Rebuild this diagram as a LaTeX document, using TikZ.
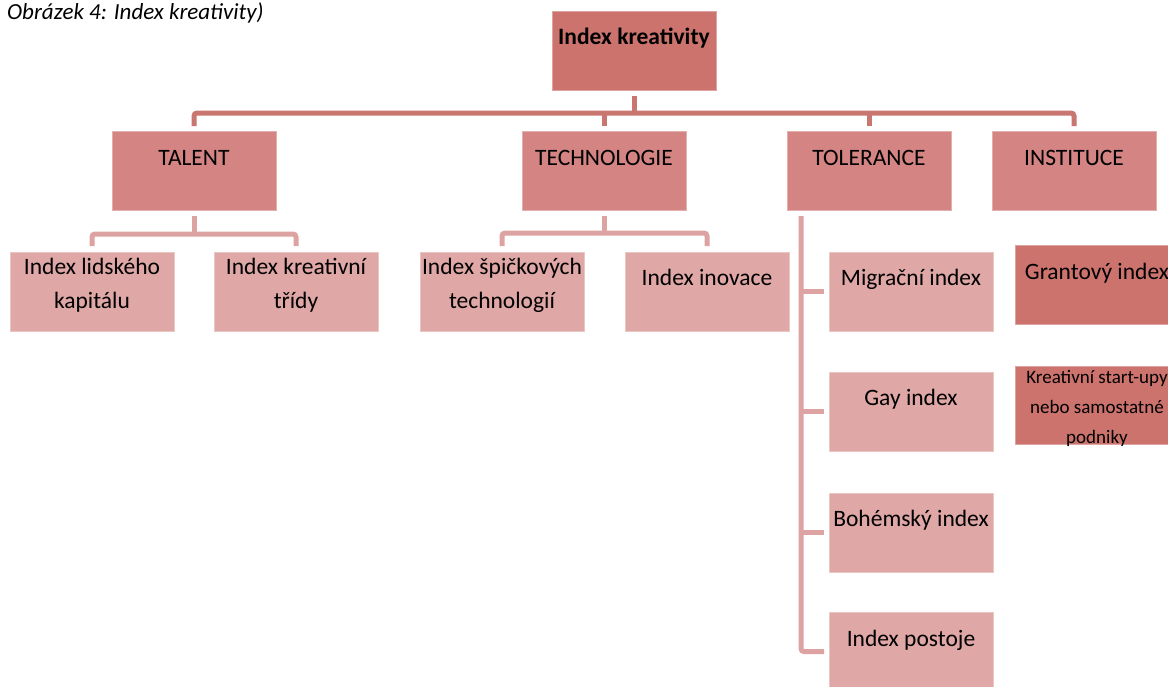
\documentclass[tikz,border=0pt]{standalone}
\usepackage{fontspec}
\setmainfont{Carlito}
\definecolor{dark}{HTML}{CC736E}
\definecolor{mid}{HTML}{D48583}
\definecolor{light}{HTML}{DFA7A6}
\definecolor{conA}{HTML}{C97570}
\definecolor{conB}{HTML}{DCA3A2}
\begin{document}
\begin{tikzpicture}[x=1pt,y=-1pt,
  box/.style={anchor=north west, inner sep=0pt, outer sep=0pt, minimum width=164pt, minimum height=79pt, fill=#1, draw=#1!65!white, line width=0.6pt},
  txt/.style={anchor=base, inner sep=0pt, align=center, font=\fontsize{23.5pt}{34pt}\selectfont},
  smalltxt/.style={anchor=base, inner sep=0pt, align=center, font=\fontsize{19pt}{30pt}\selectfont},
  connA/.style={draw=conA, line width=5pt},
  connB/.style={draw=conB, line width=5pt}]
\useasboundingbox (0,0) rectangle (1168,686);
\clip (0,0) rectangle (1168,686);

% caption
\node[anchor=base west, inner sep=0pt, font=\fontsize{23pt}{28pt}\selectfont\itshape] (cap) at (7,19) {Obrázek 4: Index kreativity)};

% boxes
\node[box=dark] (root) at (552,11) {};
\node[box=mid] (talent) at (112,131) {};
\node[box=mid] (tech) at (522,131) {};
\node[box=mid] (tol) at (787,131) {};
\node[box=mid] (inst) at (992,131) {};
\node[box=light] (lid) at (10,252) {};
\node[box=light] (kt) at (214,252) {};
\node[box=light] (spic) at (420,252) {};
\node[box=light] (inov) at (625,252) {};
\node[box=light] (mig) at (829,252) {};
\node[box=light] (gay) at (829,372) {};
\node[box=light] (boh) at (829,493) {};
\node[box=light] (post) at (829,612) {};
\node[box=dark] (grant) at (1015,245) {};
\node[box=dark, minimum height=78pt] (start) at (1015,366) {};

% texts (base anchor = baseline of the last line)
\node[txt, font=\fontsize{23.5pt}{34pt}\selectfont\bfseries] (troot) at ([yshift=-33pt]root.north) {Index kreativity};
\node[txt] (ttalent) at ([yshift=-34pt]talent.north) {TALENT};
\node[txt] (ttech) at ([yshift=-34pt]tech.north) {TECHNOLOGIE};
\node[txt] (ttol) at ([yshift=-34pt]tol.north) {TOLERANCE};
\node[txt] (tinst) at ([yshift=-34pt]inst.north) {INSTITUCE};
\node[txt] (tlid) at ([yshift=-56pt]lid.north) {Index lidského\\kapitálu};
\node[txt] (tkt) at ([yshift=-56pt]kt.north) {Index kreativní\\třídy};
\node[txt] (tspic) at ([yshift=-56pt]spic.north) {Index špičkových\\technologií};
\node[txt] (tinov) at ([yshift=-33pt]inov.north) {Index inovace};
\node[txt] (tmig) at ([yshift=-33pt]mig.north) {Migrační index};
\node[txt] (tgay) at ([yshift=-33pt]gay.north) {Gay index};
\node[txt] (tboh) at ([yshift=-33pt]boh.north) {Bohémský index};
\node[txt] (tpost) at ([yshift=-34pt]post.north) {Index postoje};
\node[txt] (tgrant) at ([yshift=-34pt]grant.north) {Grantový index};
\node[smalltxt] (tstart) at ([yshift=-77pt]start.north) {Kreativní start-upy\\nebo samostatné\\podniky};

% top level connectors
\coordinate (bar) at (634,113);
\draw[connA] ([yshift=-6pt]root.south) -- (bar);
\draw[connA, rounded corners=3pt] ([yshift=5pt]talent.north) |- (bar) -| ([yshift=5pt]inst.north);
\draw[connA] ([yshift=5pt]tech.north) -- (tech.north |- bar);
\draw[connA] ([yshift=5pt]tol.north) -- (tol.north |- bar);

% talent children
\coordinate (barT) at (194,234);
\draw[connB] ([yshift=-6pt]talent.south) -- (barT);
\draw[connB, rounded corners=3pt] ([yshift=6pt]lid.north) |- (barT) -| ([yshift=6pt]kt.north);

% technology children
\coordinate (barK) at (604,233);
\draw[connB] ([yshift=-6pt]tech.south) -- (barK);
\draw[connB, rounded corners=3pt] ([yshift=6pt]spic.north) |- (barK) -| ([yshift=6pt]inov.north);

% tolerance children
\coordinate (sp) at (801,216);
\draw[connB, rounded corners=3pt] (sp) |- ([xshift=-5pt]post.west);
\draw[connB] (sp |- mig.west) -- ([xshift=-5pt]mig.west);
\draw[connB] (sp |- gay.west) -- ([xshift=-5pt]gay.west);
\draw[connB] (sp |- boh.west) -- ([xshift=-5pt]boh.west);
\end{tikzpicture}
\end{document}
